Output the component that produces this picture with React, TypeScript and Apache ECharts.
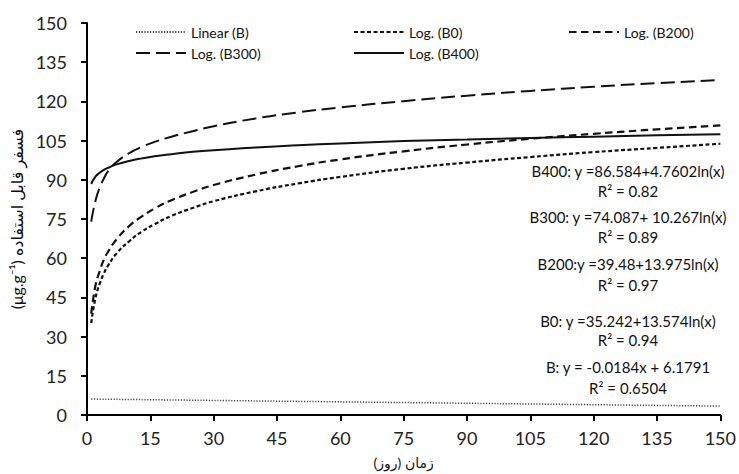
import React, { useEffect, useRef } from "react";
import * as echarts from "echarts";

const xDays = [1, 2, 3, 4, 5, 7, 10, 13, 16, 20, 25, 30, 40, 50, 60, 75, 90, 105, 120, 135, 150];

// Log. trend curves
const logB0 = [35.2, 44.8, 50.2, 54.2, 57.2, 61.8, 66.5, 70.2, 73.0, 76.2, 79.2, 81.8, 85.6, 88.6, 91.1, 94.2, 96.6, 98.7, 100.6, 102.2, 103.8];
const logB200 = [38.8, 49.5, 55.0, 59.5, 62.5, 67.2, 72.3, 76.0, 79.0, 82.2, 85.3, 88.0, 92.0, 95.2, 97.8, 100.9, 103.5, 105.7, 107.6, 109.3, 110.8];
const logB300 = [74.0, 82.0, 87.0, 90.5, 93.3, 96.8, 100.2, 102.6, 104.5, 106.5, 108.6, 110.5, 113.5, 115.8, 117.7, 120.1, 122.2, 124.0, 125.6, 127.0, 128.2];
const logB400 = [88.4, 91.2, 92.7, 93.8, 94.6, 95.9, 97.2, 98.2, 99.0, 99.8, 100.7, 101.3, 102.4, 103.2, 103.9, 104.8, 105.4, 106.0, 106.5, 107.0, 107.4];

// Linear trend (B)
const linearX = [1, 150];
const linearB = [6.1, 3.4];

const seriesNames = ["Linear (B)", "Log. (B0)", "Log. (B200)", "Log. (B300)", "Log. (B400)"];

const equations = [
  "B400: y =86.584+4.7602ln(x)",
  "R² = 0.82",
  "B300: y =74.087+ 10.267ln(x)",
  "R² = 0.89",
  "B200:y =39.48+13.975ln(x)",
  "R² = 0.97",
  "B0: y =35.242+13.574ln(x)",
  "R² = 0.94",
  "B: y = -0.0184x + 6.1791",
  "R² = 0.6504",
];
const equationY = [171, 191, 217, 237, 264, 285, 321, 340, 367, 388];

const FONT = "Lato, 'DejaVu Sans', sans-serif";

export default function App() {
  const ref = useRef<HTMLDivElement>(null);
  useEffect(() => {
    const chart = echarts.init(ref.current!, null, { renderer: "svg" });
    const pair = (xs: number[], ys: number[]) => xs.map((x, i) => [x, ys[i]]);
    const legendCommon = {
      itemWidth: 50,
      itemHeight: 12,
      itemGap: 0,
      padding: 0,
      itemStyle: { opacity: 0 },
      textStyle: { fontSize: 14, color: "#111", fontFamily: FONT },
    };
    const legendPos = [
      [135, 25],
      [353, 25],
      [568, 25],
      [135, 46],
      [353, 46],
    ];
    chart.setOption({
      animation: false,
      textStyle: { fontFamily: FONT },
      grid: { left: 87, right: 17, top: 23, bottom: 59 },
      legend: seriesNames.map((n, i) => ({
        ...legendCommon,
        data: [n],
        left: legendPos[i][0],
        top: legendPos[i][1],
      })),
      xAxis: {
        type: "value",
        min: 0,
        max: 150,
        interval: 15,
        name: "زمان (روز)\u200F",
        nameLocation: "middle",
        nameGap: 40,
        nameTextStyle: { fontSize: 14, color: "#111", fontFamily: FONT },
        axisLine: { lineStyle: { color: "#000", width: 2 } },
        axisTick: { length: 6, lineStyle: { color: "#000", width: 2 } },
        axisLabel: { fontSize: 18, color: "#222", margin: 14, fontFamily: FONT },
        splitLine: { show: false },
      },
      yAxis: {
        type: "value",
        min: 0,
        max: 150,
        interval: 15,
        name: "(μg.g⁻¹) فسفر قابل استفاده",
        nameLocation: "middle",
        nameRotate: 90,
        nameGap: 60,
        nameTextStyle: { fontSize: 16, color: "#111", fontFamily: FONT },
        axisLine: { show: true, lineStyle: { color: "#000", width: 2 } },
        axisTick: { show: true, length: 6, lineStyle: { color: "#000", width: 2 } },
        axisLabel: { fontSize: 18, color: "#222", margin: 20, fontFamily: FONT },
        splitLine: { show: false },
      },
      series: [
        {
          name: seriesNames[0],
          type: "line",
          symbol: "none",
          data: pair(linearX, linearB),
          lineStyle: { color: "#444", width: 1.5, type: [1.2, 1.6] },
          itemStyle: { color: "#444" },
        },
        {
          name: seriesNames[1],
          type: "line",
          symbol: "none",
          smooth: true,
          data: pair(xDays, logB0),
          lineStyle: { color: "#111", width: 2.2, type: [4, 2.5] },
          itemStyle: { color: "#111" },
        },
        {
          name: seriesNames[2],
          type: "line",
          symbol: "none",
          smooth: true,
          data: pair(xDays, logB200),
          lineStyle: { color: "#111", width: 2.2, type: [7.5, 4.5] },
          itemStyle: { color: "#111" },
        },
        {
          name: seriesNames[3],
          type: "line",
          symbol: "none",
          smooth: true,
          data: pair(xDays, logB300),
          lineStyle: { color: "#111", width: 2, type: [14, 6] },
          itemStyle: { color: "#111" },
        },
        {
          name: seriesNames[4],
          type: "line",
          symbol: "none",
          smooth: true,
          data: pair(xDays, logB400),
          lineStyle: { color: "#111", width: 2, type: "solid" },
          itemStyle: { color: "#111" },
        },
      ],
      graphic: equations.map((t, i) => ({
        type: "text",
        x: 628,
        y: equationY[i],
        style: {
          text: t,
          fontSize: 15,
          fontFamily: FONT,
          fill: "#111",
          textAlign: "center",
          textVerticalAlign: "middle",
        },
      })),
    });
    return () => chart.dispose();
  }, []);
  return (
    <div
      ref={ref}
      style={{ position: "absolute", left: 0, top: 0, width: 739, height: 474, background: "#fff" }}
    />
  );
}
